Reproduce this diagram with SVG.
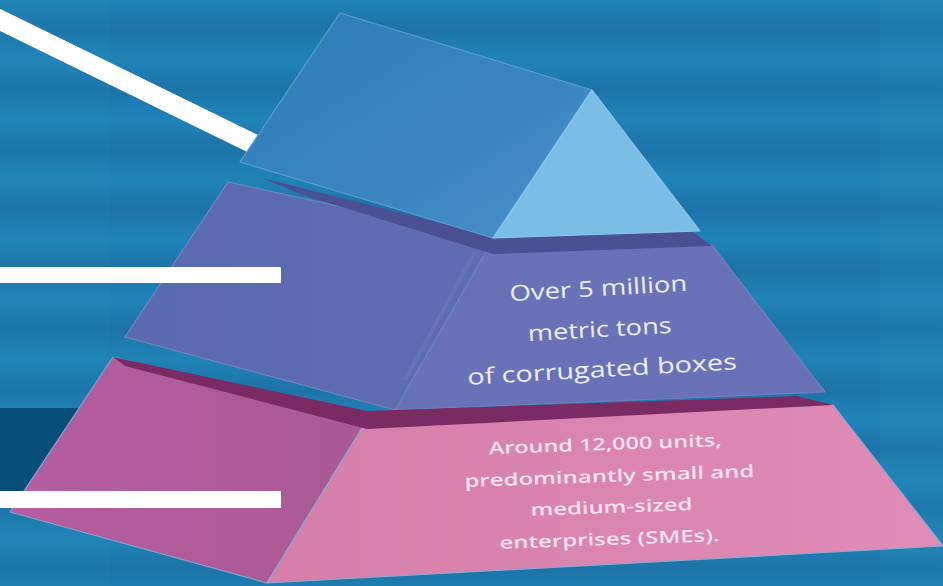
<svg xmlns="http://www.w3.org/2000/svg" width="943" height="586" viewBox="0 0 943 586">
<defs>
<linearGradient id="stripeGrad" x1="0" y1="0" x2="0" y2="1">
<stop offset="0" stop-color="#2083b8"/>
<stop offset="0.3" stop-color="#1e79ad"/>
<stop offset="0.5" stop-color="#1c73a7"/>
<stop offset="0.7" stop-color="#1e7bb0"/>
<stop offset="1" stop-color="#2083b8"/>
</linearGradient>
<pattern id="stripes" x="0" y="0" width="943" height="60" patternUnits="userSpaceOnUse">
<rect x="0" y="0" width="943" height="60" fill="url(#stripeGrad)"/>
</pattern>
<linearGradient id="topFace" x1="0" y1="0" x2="1" y2="1">
<stop offset="0" stop-color="#2c7dba"/>
<stop offset="0.6" stop-color="#3a86c2"/>
<stop offset="1" stop-color="#4b8fc8"/>
</linearGradient>
<linearGradient id="purpleLeft" x1="0" y1="0" x2="1" y2="0">
<stop offset="0" stop-color="#5a6aae"/>
<stop offset="1" stop-color="#5f6db2"/>
</linearGradient>
<linearGradient id="pinkLeft" x1="0" y1="0" x2="1" y2="0">
<stop offset="0" stop-color="#b65da0"/>
<stop offset="1" stop-color="#a85a92"/>
</linearGradient>
<linearGradient id="pinkRight" x1="0" y1="0" x2="1" y2="0">
<stop offset="0" stop-color="#d57ea9"/>
<stop offset="1" stop-color="#df8cb6"/>
</linearGradient>
</defs>
<style>
.lbl{font-family:"Open Sans","Noto Sans","Liberation Sans",sans-serif;text-anchor:middle}
.pl{font-size:22px;font-weight:500;fill:#eceefa}
.kl{font-size:17px;font-weight:600;fill:#f6e1ee}
.wl{fill:#ffffff}
.edge{stroke-width:1.2;stroke-linejoin:round}
</style>
<rect x="0" y="0" width="943" height="586" fill="url(#stripes)"/>
<rect x="880" y="0" width="63" height="586" fill="#2a8ab8" opacity="0.25"/>
<rect x="0" y="0" width="110" height="586" fill="#2a8ab8" opacity="0.15"/>
<rect x="0" y="408" width="140" height="84" fill="#054f78"/>

<g id="connectors">
<line x1="-4" y1="18" x2="262" y2="148" stroke="#ffffff" stroke-width="20"/>
</g>

<g id="tier-middle">
<polygon class="edge" points="228,182 493,240 395,410 125,337" fill="url(#purpleLeft)" stroke="#6f86c0"/>
<polygon class="edge" points="493,240 712,245 825,392 395,410" fill="#6a72b7" stroke="#7080c0"/>
<polygon points="262,178 493,236 690,230 712,246 493,254 300,194" fill="#4a5192"/>
<line x1="475" y1="252" x2="405" y2="380" stroke="#7079bb" stroke-width="4" opacity="0.6"/>
<g transform="rotate(-3.3 600 335)">
<text class="lbl pl" x="601" y="296" textLength="178" lengthAdjust="spacingAndGlyphs">Over 5 million</text>
<text class="lbl pl" x="600" y="337" textLength="144" lengthAdjust="spacingAndGlyphs">metric tons</text>
<text class="lbl pl" x="600" y="377" textLength="270" lengthAdjust="spacingAndGlyphs">of corrugated boxes</text>
</g>
</g>

<g id="tier-top">
<polygon class="edge" points="340,13 592,90 493,238 240,162" fill="url(#topFace)" stroke="#5a9dd0"/>
<polygon class="edge" points="592,90 700,231 493,238" fill="#7cbde6" stroke="#8ec6e8"/>
</g>

<g id="tier-bottom">
<polygon class="edge" points="113,357 367,420 267,583 10,512" fill="url(#pinkLeft)" stroke="#7fa3cc"/>
<polygon class="edge" points="367,420 833,405 943,546 267,583" fill="url(#pinkRight)" stroke="#8fa8d0"/>
<polygon points="113,357 367,411 797,396 833,405 367,429 125,366" fill="#7b2b64"/>
<g transform="rotate(-2 608 495)">
<text class="lbl kl" x="607" y="450" textLength="233" lengthAdjust="spacingAndGlyphs">Around 12,000 units,</text>
<text class="lbl kl" x="610" y="482" textLength="290" lengthAdjust="spacingAndGlyphs">predominantly small and</text>
<text class="lbl kl" x="611" y="513" textLength="162" lengthAdjust="spacingAndGlyphs">medium-sized</text>
<text class="lbl kl" x="608" y="545" textLength="220" lengthAdjust="spacingAndGlyphs">enterprises (SMEs).</text>
</g>
</g>

<g id="connectors-bars">
<rect class="wl" x="0" y="267" width="281" height="16"/>
<rect class="wl" x="0" y="491" width="281" height="17"/>
</g>
</svg>
